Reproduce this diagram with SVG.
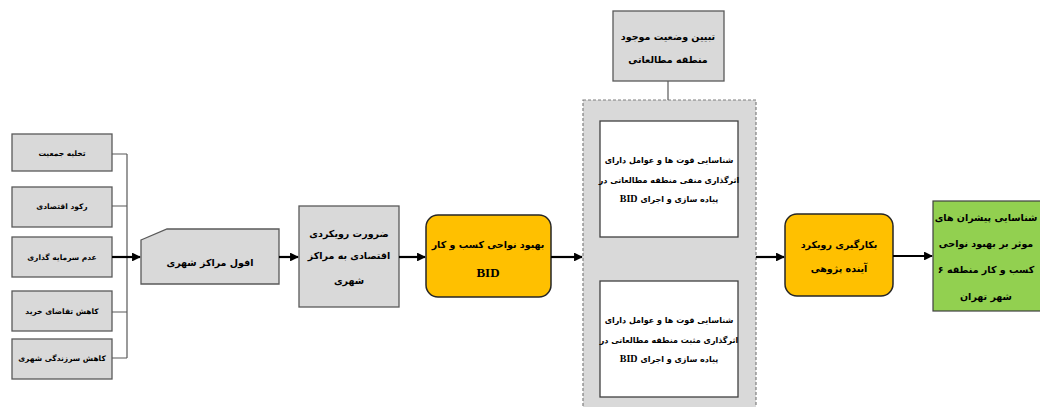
<svg xmlns="http://www.w3.org/2000/svg" width="1040" height="407" viewBox="0 0 1040 407">
<defs>
<marker id="ah" viewBox="0 0 10 10" refX="9" refY="5" markerWidth="4" markerHeight="4" orient="auto"><path d="M0,0 L10,5 L0,10 Z" fill="#000"/></marker>
<style>
.g{fill:#d9d9d9;stroke:#595959;stroke-width:1.3}
.w{fill:#fff;stroke:#404040;stroke-width:1.3}
.o{fill:#ffc000;stroke:#262626;stroke-width:1.5}
.gr{fill:#92d050;stroke:#404040;stroke-width:1.2}
.t{font-family:"DejaVu Sans",sans-serif;font-weight:bold;fill:#000;text-anchor:middle;direction:rtl}
.s{font-size:7.5px}
.s2{font-size:8px}
.m{font-size:9.5px}
.l{font-size:9.5px}
.b{font-family:"Liberation Serif",serif;font-weight:bold;text-anchor:middle;fill:#000}
.a{stroke:#000;stroke-width:2.2;fill:none;marker-end:url(#ah)}
.br{stroke:#595959;stroke-width:1.2;fill:none}
</style>
</defs>
<rect x="583" y="100" width="173" height="320" fill="#d9d9d9" stroke="#7f7f7f" stroke-width="1.2" stroke-dasharray="3,2"/>
<g id="n1"><rect class="g" x="12" y="134" width="100" height="37"/><text class="t s" x="62" y="156">تخلیه جمعیت</text></g>
<g id="n2"><rect class="g" x="12" y="187" width="100" height="40"/><text class="t s" x="62" y="209">رکود اقتصادی</text></g>
<g id="n3"><rect class="g" x="12" y="237" width="100" height="40"/><text class="t s" x="62" y="260">عدم سرمایه گذاری</text></g>
<g id="n4"><rect class="g" x="12" y="291" width="100" height="40"/><text class="t s" x="62" y="314">کاهش تقاضای خرید</text></g>
<g id="n5"><rect class="g" x="12" y="339" width="100" height="40"/><text class="t s" x="62" y="361">کاهش سرزندگی شهری</text></g>
<g id="n6"><path class="g" d="M141,240 L167,229 L279,229 L279,284 L141,284 Z"/><text class="t m" x="210" y="266">افول مراکز شهری</text></g>
<g id="n7"><rect class="g" x="299" y="206" width="100" height="101"/><text class="t m" x="349" y="237">ضرورت رویکردی</text><text class="t m" x="349" y="259">اقتصادی به مراکز</text><text class="t m" x="349" y="284">شهری</text></g>
<g id="n8"><rect class="o" x="426" y="215" width="125" height="82" rx="12"/><text class="t m" x="488" y="248">بهبود نواحی کسب و کار</text><text class="b" x="488" y="277" font-size="13">BID</text></g>
<g id="n9"><rect class="g" x="613" y="11" width="111" height="70"/><text class="t m" x="668" y="40">تبیین وضعیت موجود</text><text class="t m" x="668" y="63">منطقه مطالعاتی</text></g>
<g id="n10"><rect class="w" x="600" y="121" width="138" height="116"/><text class="t s2" x="669" y="163">شناسایی قوت ها و عوامل  دارای</text><text class="t s2" x="669" y="183">اثرگذاری منفی منطقه مطالعاتی در</text><text class="t s2" x="669" y="202">پیاده سازی و اجرای <tspan font-family="Liberation Serif" font-size="10">BID</tspan></text></g>
<g id="n11"><rect class="w" x="600" y="281" width="138" height="116"/><text class="t s2" x="669" y="323">شناسایی قوت ها و عوامل  دارای</text><text class="t s2" x="669" y="343">اثرگذاری مثبت منطقه مطالعاتی در</text><text class="t s2" x="669" y="362">پیاده سازی و اجرای <tspan font-family="Liberation Serif" font-size="10">BID</tspan></text></g>
<g id="n12"><rect class="o" x="785" y="214" width="108" height="82" rx="12"/><text class="t m" x="839" y="248">بکارگیری  رویکرد</text><text class="t m" x="839" y="272">آینده پژوهی</text></g>
<g id="n13"><rect class="gr" x="933" y="201" width="116" height="110"/><text class="t l" x="986" y="221">شناسایی پیشران های</text><text class="t l" x="986" y="247">موثر بر بهبود نواحی</text><text class="t l" x="986" y="273">کسب و کار منطقه ۶</text><text class="t l" x="986" y="300">شهر تهران</text></g>
<g id="connectors">
<path class="br" d="M112,154 H127 M112,206 H127 M112,312 H127 M112,358 H127 M127,154 V358"/>
<line class="a" x1="112" y1="257" x2="140" y2="257"/>
<line class="a" x1="279" y1="257" x2="298" y2="257"/>
<line class="a" x1="399" y1="257" x2="425" y2="257"/>
<line class="a" x1="551" y1="257" x2="582" y2="257"/>
<line class="br" x1="668" y1="81" x2="668" y2="100"/>
<line class="a" x1="756" y1="257" x2="784" y2="257"/>
<line class="a" x1="893" y1="256" x2="932" y2="256"/>
</g>
</svg>
